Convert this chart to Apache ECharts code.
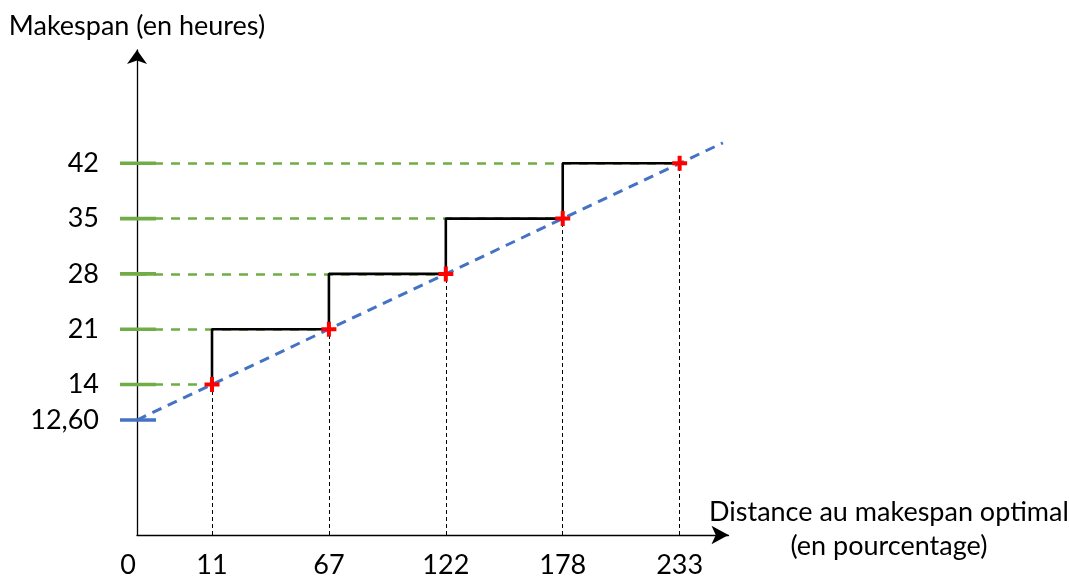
<!DOCTYPE html>
<html><head><meta charset="utf-8">
<script src="https://cdn.jsdelivr.net/npm/echarts@6/dist/echarts.min.js"></script>
<style>html,body{margin:0;padding:0;background:#fff}#c{width:1069px;height:578px}</style>
</head><body><div id="c"></div>
<script>
// ---- data ----
const distanceLabels = ['11', '67', '122', '178', '233'];   // distance to optimal makespan (%)
const makespan = [14, 21, 28, 35, 42];                      // makespan (hours)
const optimalLabel = '12,60';
const originLabel = '0';
const yTitle = 'Makespan (en heures)';
const xTitleLines = ['Distance au makespan optimal', '(en pourcentage)'];

// ---- schematic axis extents (points sit at ordinal positions 0..4) ----
const X_MIN = -0.6416, X_MAX = 4.418, BLUE_END = 4.37;
const Y_MIN = -5.05, Y_MAX = 56.34;

const GREEN = '#70AD47', BLUE = '#4472C4', RED = '#FF0000';
const FONT = 'Lato';
const FS = 27;

const pts = makespan.map((m, i) => [i, m]);
const slope = makespan[1] - makespan[0];
const yAt = x => makespan[0] + slope * x;
const interceptY = yAt(X_MIN);

const tickData = [[X_MIN, interceptY, 0]].concat(makespan.map(m => [X_MIN, m, 1]));
const xTitle = xTitleLines.map(s => '{t|' + s + '}').join('\n') + '\n{s| }';

const chart = echarts.init(document.getElementById('c'), null, {renderer: 'canvas'});
chart.setOption({
  animation: false,
  backgroundColor: '#fff',
  grid: {left: 137, right: 340.5, top: 50, bottom: 43, outerBoundsMode: 'none'},
  xAxis: {
    type: 'value', min: X_MIN, max: X_MAX,
    splitLine: {show: false},
    axisTick: {show: false},
    axisLine: {show: true, onZero: false, symbol: ['none', 'arrow'], symbolSize: [14, 17],
      lineStyle: {color: '#000', width: 1.3}},
    axisLabel: {
      customValues: [X_MIN, 0, 1, 2, 3, 4],
      margin: 17,
      fontFamily: FONT, fontSize: FS, color: '#000',
      formatter: v => Math.abs(v - X_MIN) < 1e-6 ? '{o|' + originLabel + '}' : distanceLabels[Math.round(v)],
      rich: {o: {fontFamily: FONT, fontSize: FS, color: '#000', padding: [0, 18, 0, 0]}}
    },
    name: xTitle, nameLocation: 'end', nameGap: 156,
    nameTextStyle: {fontFamily: FONT, fontSize: FS, color: '#000', align: 'center',
      verticalAlign: 'middle',
      rich: {
        t: {fontFamily: FONT, fontSize: FS, color: '#000', lineHeight: 34, align: 'center'},
        s: {fontFamily: FONT, fontSize: 10, lineHeight: 12}
      }}
  },
  yAxis: {
    type: 'value', min: Y_MIN, max: Y_MAX,
    splitLine: {show: false},
    axisTick: {show: false},
    axisLine: {show: true, onZero: false, symbol: ['none', 'arrow'], symbolSize: [15, 14],
      lineStyle: {color: '#000', width: 1.3}},
    axisLabel: {
      customValues: [interceptY].concat(makespan),
      margin: 38,
      fontFamily: FONT, fontSize: FS, color: '#000',
      padding: [0, 0, 4, 0],
      formatter: v => Math.abs(v - interceptY) < 1e-6 ? optimalLabel : String(Math.round(v))
    },
    name: yTitle, nameLocation: 'end', nameGap: 10,
    nameTextStyle: {fontFamily: FONT, fontSize: FS, color: '#000', align: 'center'}
  },
  series: [
    { // green dashed reference lines
      type: 'lines', coordinateSystem: 'cartesian2d', z: 1, clip: false,
      lineStyle: {color: GREEN, width: 2.6, type: [9, 8], opacity: 1},
      data: pts.map(p => ({coords: [[X_MIN, p[1]], [p[0], p[1]]]}))
    },
    { // thin black dashed verticals
      type: 'lines', coordinateSystem: 'cartesian2d', z: 2, clip: false,
      lineStyle: {color: '#000', width: 1, type: [4, 3], opacity: 1},
      data: pts.map(p => ({coords: [[p[0], Y_MIN], [p[0], p[1]]]}))
    },
    { // black step line
      type: 'line', step: 'start', z: 3, symbol: 'none', clip: false,
      lineStyle: {color: '#000', width: 2.6},
      data: pts
    },
    { // blue dashed linear relation
      type: 'line', z: 4, symbol: 'none', clip: false,
      lineStyle: {color: BLUE, width: 3, type: [10, 7]},
      data: [[X_MIN, interceptY]].concat(pts, [[BLUE_END, yAt(BLUE_END)]])
    },
    { // y tick marks
      type: 'custom', coordinateSystem: 'cartesian2d', z: 5, clip: false,
      data: tickData,
      renderItem: (params, api) => {
        const p = api.coord([api.value(0), api.value(1)]);
        return {type: 'line', shape: {x1: p[0] - 17, y1: p[1], x2: p[0] + 19, y2: p[1]},
          style: {stroke: api.value(2) ? GREEN : BLUE, lineWidth: 3.6}};
      }
    },
    { // red crosses
      type: 'scatter', z: 6,
      symbol: 'path://M5.5,0h4v5.5h5.5v4h-5.5v5.5h-4v-5.5h-5.5v-4h5.5z',
      symbolSize: 15,
      itemStyle: {color: RED, opacity: 1},
      data: pts
    }
  ]
});
</script></body></html>
